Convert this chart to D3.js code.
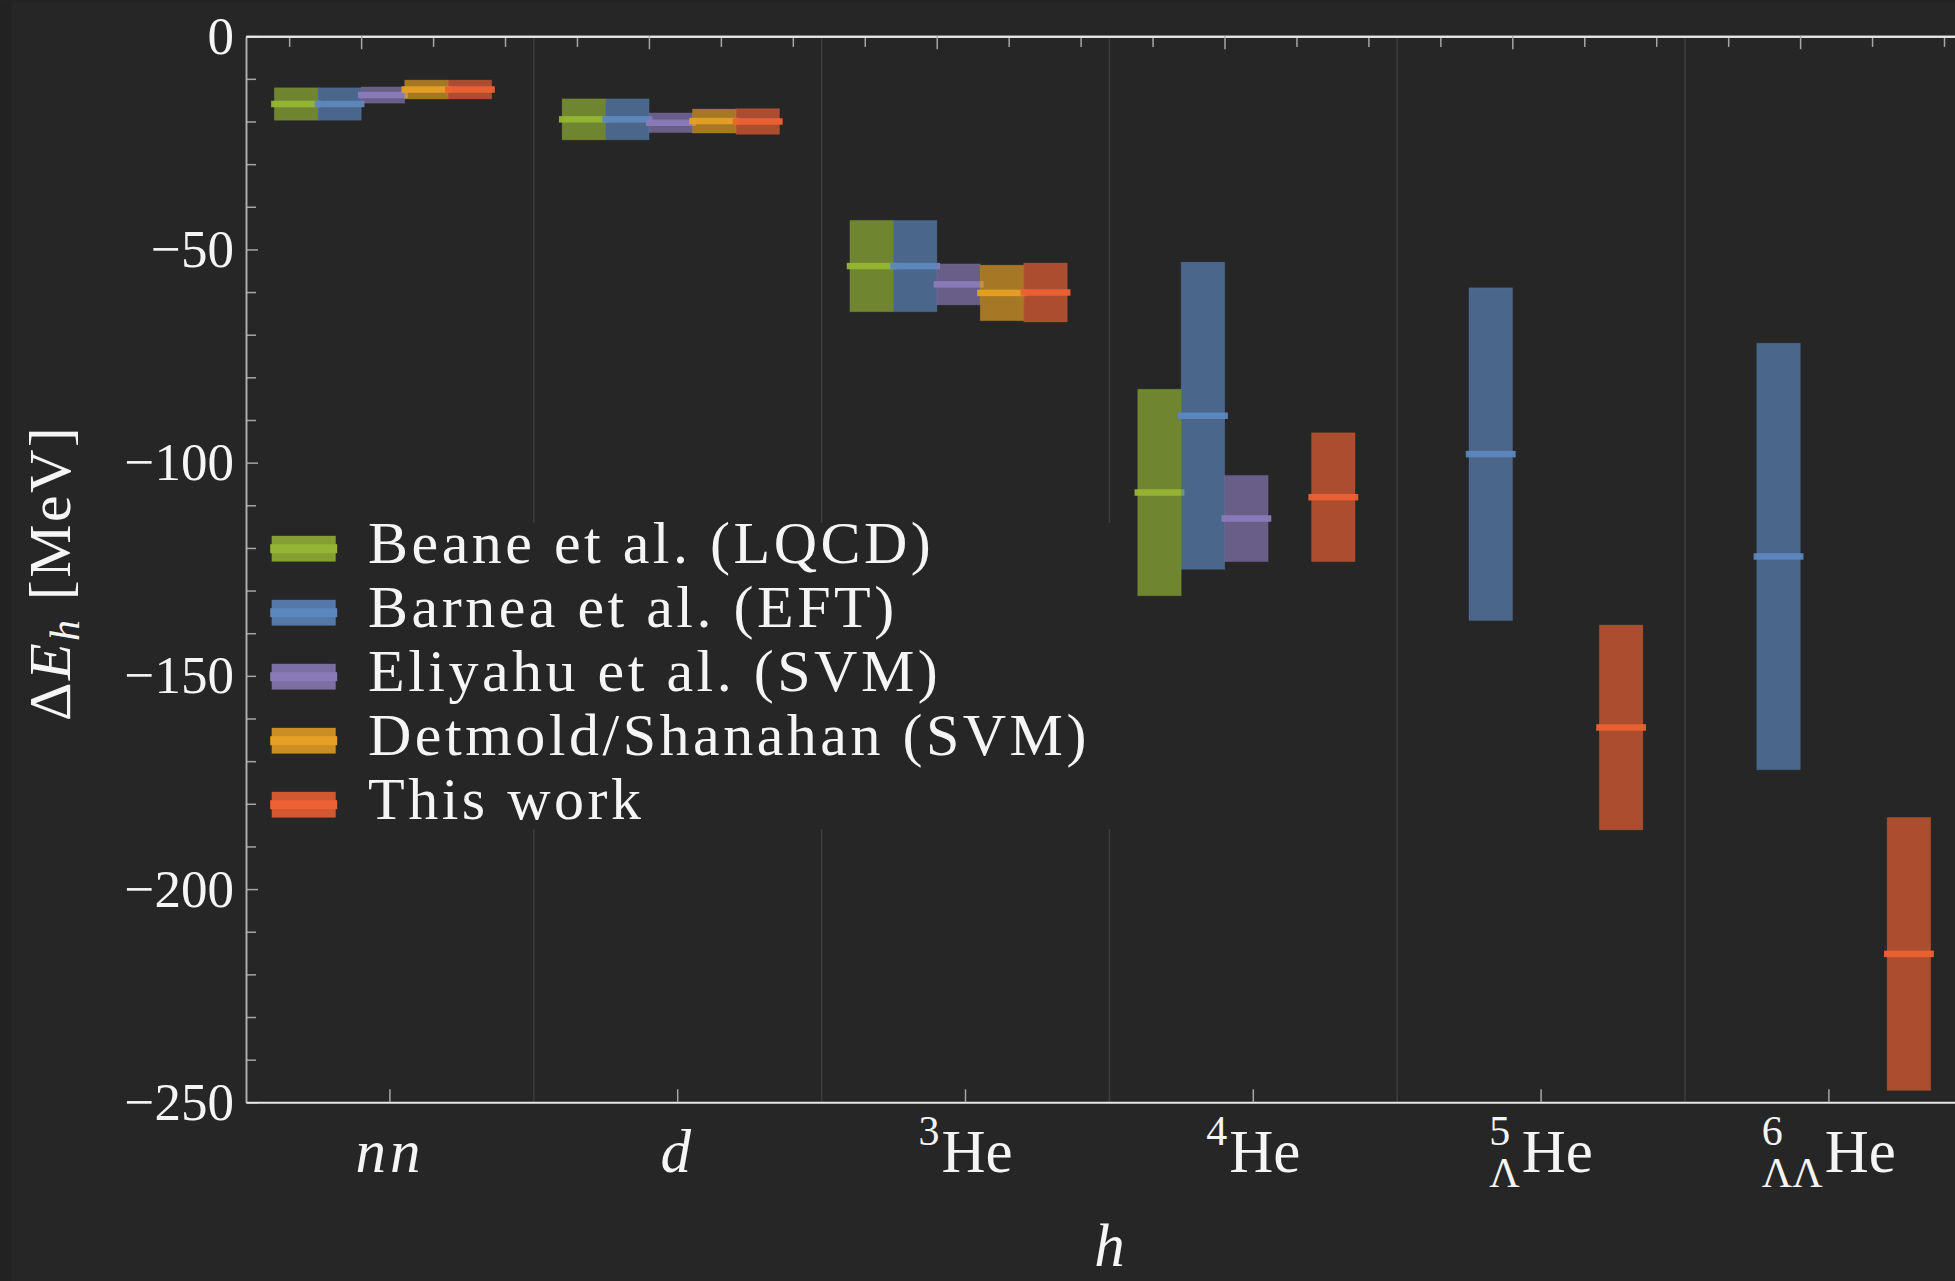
<!DOCTYPE html>
<html>
<head>
<meta charset="utf-8">
<script src="https://cdn.jsdelivr.net/npm/d3@7"></script>
<style>
  html, body { margin: 0; padding: 0; background: #262626; overflow: hidden; }
  svg { display: block; }
  text { font-family: "Liberation Serif", "Times New Roman", serif; fill: #f5f5f5; }
</style>
</head>
<body>
<svg id="chart" width="1955" height="1281"></svg>
<script>
// ---- data: binding-energy shifts ΔE_h (MeV), central value and symmetric uncertainty ----
const categories = ["nn", "d", "3He", "4He", "5LHe", "6LLHe"];
const seriesNames = ["Beane et al. (LQCD)", "Barnea et al. (EFT)", "Eliyahu et al. (SVM)",
                     "Detmold/Shanahan (SVM)", "This work"];

const beaneCentral   = [-15.9, -19.5, -53.9, -107.0, null, null];
const beaneError     = [3.8, 4.8, 10.7, 24.2, null, null];
const barneaCentral  = [-15.9, -19.5, -53.9, -89.0, -98.0, -122.0];
const barneaError    = [3.8, 4.8, 10.7, 36.0, 39.0, 50.0];
const eliyahuCentral = [-13.8, -20.3, -58.2, -113.1, null, null];
const eliyahuError   = [1.9, 2.3, 4.8, 10.1, null, null];
const detmoldCentral = [-12.5, -19.9, -60.2, null, null, null];
const detmoldError   = [2.2, 2.8, 6.5, null, null, null];
const thisCentral    = [-12.5, -20.0, -60.1, -108.1, -162.1, -215.2];
const thisError      = [2.2, 3.0, 6.9, 15.1, 24.0, 32.0];

const lineColors = ["#95b534", "#5c87be", "#8a7bb8", "#e5a024", "#ec6234"];

const yMajorTicks = [0, -50, -100, -150, -200, -250];

// tick labels on the h axis: optional stacked left super/subscripts
const categoryLabels = [
  { main: "nn", italic: true },
  { main: "d", italic: true },
  { sup: "3", main: "He" },
  { sup: "4", main: "He" },
  { sup: "5", sub: "Λ", main: "He" },
  { sup: "6", sub: "ΛΛ", main: "He" }
];

const centrals = [beaneCentral, barneaCentral, eliyahuCentral, detmoldCentral, thisCentral];
const errors   = [beaneError, barneaError, eliyahuError, detmoldError, thisError];

// ---- layout ----
const W = 1955, H = 1281;
const plot = { left: 246, top: 36.2, bottom: 1102.3, right: 246 + 6 * 287.8 };
const svg = d3.select("#chart");

svg.append("rect").attr("width", W).attr("height", H).attr("fill", "#262626");
svg.append("rect").attr("width", 11.5).attr("height", H).attr("fill", "#222222");
svg.append("rect").attr("width", W).attr("height", 3).attr("fill", "#232323");

const y = d3.scaleLinear().domain([-250, 0]).range([plot.bottom, plot.top]);
const x0 = d3.scaleBand().domain(categories).range([plot.left, plot.right]);
const x1 = d3.scaleBand().domain(seriesNames).range([0, x0.bandwidth()])
  .paddingInner(0).paddingOuter(0.811).align(0.402);
// numeric frame coordinate along h, used for the top frame ticks
const frameX = d3.scaleLinear().domain([0.6, 6.6]).range([plot.left, plot.right]);

// category separators
svg.append("g").selectAll("line")
  .data(categories.slice(1))
  .join("line")
  .attr("x1", d => x0(d)).attr("x2", d => x0(d))
  .attr("y1", plot.top).attr("y2", plot.bottom)
  .attr("stroke", "#3c3c3c").attr("stroke-width", 1.5);

// ---- bars: uncertainty box plus central-value bar for every series ----
const barsG = svg.append("g");
seriesNames.forEach((name, s) => {
  const rows = categories.map((c, i) => ({ c, v: centrals[s][i], e: errors[s][i] }))
    .filter(d => d.v !== null);
  const g = barsG.append("g");
  rows.forEach(d => {
    const bx = x0(d.c) + x1(name), bw = x1.bandwidth();
    g.append("rect")
      .attr("x", bx).attr("width", bw)
      .attr("y", y(d.v + d.e)).attr("height", y(d.v - d.e) - y(d.v + d.e))
      .attr("fill", lineColors[s]).attr("fill-opacity", 0.67)
      .attr("stroke", lineColors[s]).attr("stroke-opacity", 0.25).attr("stroke-width", 1);
    g.append("rect")
      .attr("x", bx - 3.2).attr("width", bw + 6.4)
      .attr("y", y(d.v) - 3.25).attr("height", 6.5)
      .attr("fill", lineColors[s]).attr("fill-opacity", 0.95);
  });
});

// ---- axes ----
const tickGrey = "#a6a6a6";
function styleAxis(g, lineColor, lineWidth) {
  g.select(".domain").attr("stroke", lineColor).attr("stroke-width", lineWidth);
  g.selectAll(".tick line").attr("stroke", tickGrey).attr("stroke-width", 1.5);
}

// left: major ticks with labels, minor every 10
const yMinor = d3.range(-240, 0, 10).filter(v => v % 50 !== 0);
const leftMinor = svg.append("g").attr("transform", `translate(${plot.left},0)`)
  .call(d3.axisLeft(y).tickValues(yMinor).tickSizeInner(-10).tickSizeOuter(0).tickFormat(""));
styleAxis(leftMinor, "#b4b4b4", 1.5);
const leftMajor = svg.append("g").attr("transform", `translate(${plot.left},0)`)
  .call(d3.axisLeft(y).tickValues(yMajorTicks).tickSizeInner(-12).tickSizeOuter(0).tickPadding(12));
styleAxis(leftMajor, "#b4b4b4", 1.5);
leftMajor.selectAll(".tick text")
  .attr("font-family", "Liberation Serif, serif").attr("font-size", 53).attr("fill", "#f5f5f5");

// bottom: ticks at category centres
const bottom = svg.append("g").attr("transform", `translate(0,${plot.bottom})`)
  .call(d3.axisBottom(x0).tickSizeInner(-13).tickSizeOuter(0).tickFormat(""));
styleAxis(bottom, "#e8e8e8", 2);

// top frame: major at integer frame coordinates, minor every quarter
const topMinor = d3.range(0.75, 6.6, 0.25).filter(v => Math.abs(v - Math.round(v)) > 1e-6);
const topMinorG = svg.append("g").attr("transform", `translate(0,${plot.top})`)
  .call(d3.axisTop(frameX).tickValues(topMinor).tickSizeInner(-10.7).tickSizeOuter(0).tickFormat(""));
styleAxis(topMinorG, "#e8e8e8", 2);
const topMajorG = svg.append("g").attr("transform", `translate(0,${plot.top})`)
  .call(d3.axisTop(frameX).tickValues(d3.range(1, 7)).tickSizeInner(-13).tickSizeOuter(0).tickFormat(""));
styleAxis(topMajorG, "#e8e8e8", 2);

// ---- category labels ----
const labelBase = 1171.7;
const labelsG = svg.append("g");
categoryLabels.forEach((lab, i) => {
  const g = labelsG.append("g");
  let preW = 0;
  if (lab.sup) {
    const t = g.append("text").attr("x", 0).attr("y", labelBase - 26.7)
      .attr("font-size", 42).text(lab.sup);
    preW = Math.max(preW, t.node().getComputedTextLength());
  }
  if (lab.sub) {
    const t = g.append("text").attr("x", 0).attr("y", labelBase + 15)
      .attr("font-size", 42).text(lab.sub);
    preW = Math.max(preW, t.node().getComputedTextLength());
  }
  const gap = preW > 0 ? 2 : 0;
  const m = g.append("text").attr("x", preW + gap).attr("y", labelBase)
    .attr("font-size", 61)
    .attr("font-style", lab.italic ? "italic" : "normal")
    .attr("letter-spacing", lab.italic ? 4 : 0)
    .text(lab.main);
  const total = preW + gap + m.node().getComputedTextLength();
  const cx = x0(categories[i]) + x0.bandwidth() / 2;
  g.attr("transform", `translate(${cx - total / 2},0)`);
});

// axis titles
svg.append("text")
  .attr("x", (plot.left + plot.right) / 2).attr("y", 1266)
  .attr("text-anchor", "middle").attr("font-size", 61).attr("font-style", "italic")
  .text("h");

const yTitle = svg.append("text")
  .attr("transform", "translate(70,573) rotate(-90)")
  .attr("text-anchor", "middle").attr("font-size", 60).attr("letter-spacing", 2.4);
yTitle.append("tspan").text("Δ");
yTitle.append("tspan").attr("font-style", "italic").text("E");
yTitle.append("tspan").attr("font-style", "italic").attr("font-size", 42).attr("dy", 9).text("h");
yTitle.append("tspan").attr("dy", -9).text(" [MeV]");

// ---- legend ----
const legend = svg.append("g");
legend.append("rect").attr("x", 256).attr("y", 523).attr("width", 866).attr("height", 306)
  .attr("fill", "#262626");
const legendRow = d3.scaleLinear().domain([0, 4]).range([548.7, 804.7]);
seriesNames.forEach((name, s) => {
  const cy = legendRow(s);
  legend.append("rect").attr("x", 271.7).attr("width", 64)
    .attr("y", cy - 12.85).attr("height", 25.7)
    .attr("fill", lineColors[s]).attr("fill-opacity", 0.86);
  legend.append("rect").attr("x", 270.2).attr("width", 67)
    .attr("y", cy - 4.5).attr("height", 9)
    .attr("fill", lineColors[s]);
  legend.append("text").attr("x", 368).attr("y", cy + 14.6)
    .attr("font-size", 60).attr("letter-spacing", 3.5)
    .text(name);
});
</script>
</body>
</html>
